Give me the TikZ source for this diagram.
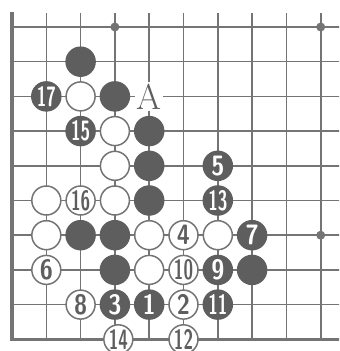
\documentclass[tikz,border=0pt]{standalone}
\usepackage{fontspec}
\usepackage{tikz}
\usetikzlibrary{positioning}
\definecolor{gridgray}{HTML}{747474}
\definecolor{stonegray}{HTML}{5E5E5E}
\newcommand{\onedig}[1]{\scalebox{0.85}[1]{#1}}
\newcommand{\twodig}[1]{\scalebox{0.62}[1]{#1}}

\begin{document}
\begin{tikzpicture}[
    x=34.3pt, y=-34.7pt,
    font=\sffamily\bfseries\fontsize{28}{28}\selectfont,
    gridline/.style={draw=gridgray, line width=1.6pt},
    edgeline/.style={draw=gridgray, line width=3.2pt, line cap=rect},
    hoshi/.style={circle, fill=gridgray, inner sep=0pt, minimum size=9pt},
    bstone/.style={circle, fill=stonegray, text=white, inner sep=0pt, minimum size=30.5pt},
    wstone/.style={circle, draw=gridgray, fill=white, line width=1.5pt, text=stonegray,
                   inner sep=0pt, minimum size=29pt},
    letterlabel/.style={fill=white, text=stonegray, inner sep=1.5pt,
                        font=\rmfamily\mdseries\fontsize{36}{36}\selectfont}
]

\path[use as bounding box, clip] (-0.35,-0.778) rectangle (9.534,9.337);

% board
\foreach \c in {1,...,9}
    \draw[gridline] (\c,-0.4) -- (\c,9);
\foreach \r in {0,...,8}
    \draw[gridline] (0,\r) -- (9.6,\r);
\draw[edgeline] (0,-0.4) -- (0,9) -- (9.6,9);

\node[hoshi] (hoshiA) at (3,0) {};
\node[hoshi] (hoshiB) at (9,0) {};
\node[hoshi] (hoshiC) at (9,6) {};

% stones already on the board
\foreach \c/\r in {2/1, 3/2, 4/3, 4/4, 4/5, 2/6, 3/6, 3/7, 7/7}
    \node[bstone] (b-\c-\r) at (\c,\r) {};
\foreach \c/\r in {2/2, 3/3, 3/4, 1/5, 3/5, 1/6, 4/6, 6/6, 4/7}
    \node[wstone] (w-\c-\r) at (\c,\r) {};

% numbered moves
\node[bstone] (m1) at (4,8) {\onedig{1}};
\node[wstone] (m2) at (5,8) {\onedig{2}};
\node[bstone] (m3) at (3,8) {\onedig{3}};
\node[wstone] (m4) at (5,6) {\onedig{4}};
\node[bstone] (m5) at (6,4) {\onedig{5}};
\node[wstone] (m6) at (1,7) {\onedig{6}};
\node[bstone] (m7) at (7,6) {\onedig{7}};
\node[wstone] (m8) at (2,8) {\onedig{8}};
\node[bstone] (m9) at (6,7) {\onedig{9}};
\node[wstone] (m10) at (5,7) {\twodig{10}};
\node[bstone] (m11) at (6,8) {\twodig{11}};
\node[wstone] (m12) at (5,9) {\twodig{12}};
\node[bstone] (m13) at (6,5) {\twodig{13}};
\node[wstone] (m14) at (3.1,9) {\twodig{14}};
\node[bstone] (m15) at (2,3) {\twodig{15}};
\node[wstone] (m16) at (2,5) {\twodig{16}};
\node[bstone] (m17) at (1,2) {\twodig{17}};

\node[letterlabel] (pointA) at (4,2) {A};

\end{tikzpicture}
\end{document}
